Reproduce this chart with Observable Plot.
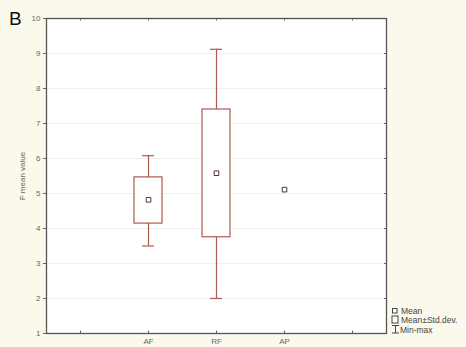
<!DOCTYPE html>
<html>
<head>
<meta charset="utf-8">
<script src="https://cdn.jsdelivr.net/npm/d3@7"></script>
<script src="https://cdn.jsdelivr.net/npm/@observablehq/plot@0.6"></script>
<style>
  html, body { margin: 0; padding: 0; background: #fbf9ec; }
  #chart { position: relative; width: 466px; height: 347px; }
  svg { font-family: "Liberation Sans", Arial, sans-serif; }
</style>
</head>
<body>
<div id="chart"></div>
<script>
// Groups and summary statistics of F mean value
const groups = ["AF", "RF", "AP"];
const means = [4.82, 5.58, 5.11];
const sdLow = [4.14, 3.75, null];
const sdHigh = [5.46, 7.4, null];
const minVals = [3.5, 2.0, null];
const maxVals = [6.08, 9.12, null];
const yTicks = [1, 2, 3, 4, 5, 6, 7, 8, 9, 10];

// Band positions including an empty slot at each end
const slots = ["_l", ...groups, "_r"];

const rows = groups.map((g, i) => ({
  group: g, mean: means[i], lo: sdLow[i], hi: sdHigh[i], min: minVals[i], max: maxVals[i]
}));
const spread = rows.filter(d => d.lo != null);

const boxColor = "#ad5a50";
const axisColor = "#666";

const plot = Plot.plot({
  width: 466,
  height: 347,
  marginLeft: 46,
  marginRight: 80,
  marginTop: 18,
  marginBottom: 14,
  style: { background: "transparent", fontFamily: "Liberation Sans, Arial, sans-serif" },
  x: { type: "band", domain: slots, padding: 0, align: 0.5 },
  y: { domain: [1, 10] },
  marks: [
    Plot.frame({ fill: "white" }),
    Plot.gridY(yTicks, { stroke: "#e2e2e2", strokeOpacity: 0.5 }),
    Plot.axisY(yTicks, {
      anchor: "left", tickSize: 3, tickPadding: 3, fontSize: 8, color: axisColor,
      label: "F mean value", labelAnchor: "center", labelArrow: "none", labelOffset: 27
    }),
    Plot.axisY(yTicks, { anchor: "right", tickSize: -3, tickFormat: () => "", stroke: axisColor, label: null }),
    Plot.axisX(slots, {
      anchor: "bottom", tickSize: 0, tickPadding: 5, fontSize: 8, color: axisColor,
      tickFormat: d => (d.startsWith("_") ? "" : d), label: null
    }),
    Plot.ruleX(slots, { x: d => d, y1: 1, y2: 1.07, stroke: axisColor }),
    Plot.ruleX(slots, { x: d => d, y1: 9.93, y2: 10, stroke: axisColor }),
    Plot.frame({ stroke: "#555", strokeWidth: 1.3 }),
    // min-max whiskers
    Plot.ruleX(spread, { x: "group", y1: "min", y2: "max", stroke: boxColor, strokeWidth: 1.2 }),
    Plot.tickY(spread, { x: "group", y: "min", stroke: boxColor, strokeWidth: 1.2, inset: 28 }),
    Plot.tickY(spread, { x: "group", y: "max", stroke: boxColor, strokeWidth: 1.2, inset: 28 }),
    // mean ± std. dev. boxes
    Plot.barY(spread, { x: "group", y1: "lo", y2: "hi", fill: "white", stroke: boxColor, strokeWidth: 1.2, insetLeft: 20, insetRight: 20 }),
    // means
    Plot.dot(rows, { x: "group", y: "mean", symbol: "square", r: 2.6, stroke: "#553333", strokeWidth: 1, fill: "white" })
  ]
});

document.getElementById("chart").appendChild(plot);

const svg = d3.select(plot);

// Panel letter
svg.append("text")
  .attr("x", 9).attr("y", 25)
  .attr("font-size", 19)
  .attr("text-anchor", "start")
  .attr("fill", "#111")
  .text("B");

// Legend
const lg = svg.append("g").attr("transform", "translate(392,310)")
  .attr("font-size", 8.5).attr("fill", "#444").attr("text-anchor", "start");
lg.append("rect").attr("x", 0.5).attr("y", -1.5).attr("width", 4.5).attr("height", 4.5)
  .attr("fill", "white").attr("stroke", "#444");
lg.append("text").attr("x", 9).attr("y", 3.5).text("Mean");
lg.append("rect").attr("x", 0).attr("y", 6).attr("width", 6).attr("height", 7)
  .attr("fill", "white").attr("stroke", "#444");
lg.append("text").attr("x", 9).attr("y", 13).text("Mean\u00B1Std.dev.");
lg.append("path").attr("d", "M0,15.5H7M3.5,15.5V23M0,23H7").attr("stroke", "#444").attr("fill", "none");
lg.append("text").attr("x", 8).attr("y", 23).text("Min-max");
</script>
</body>
</html>
